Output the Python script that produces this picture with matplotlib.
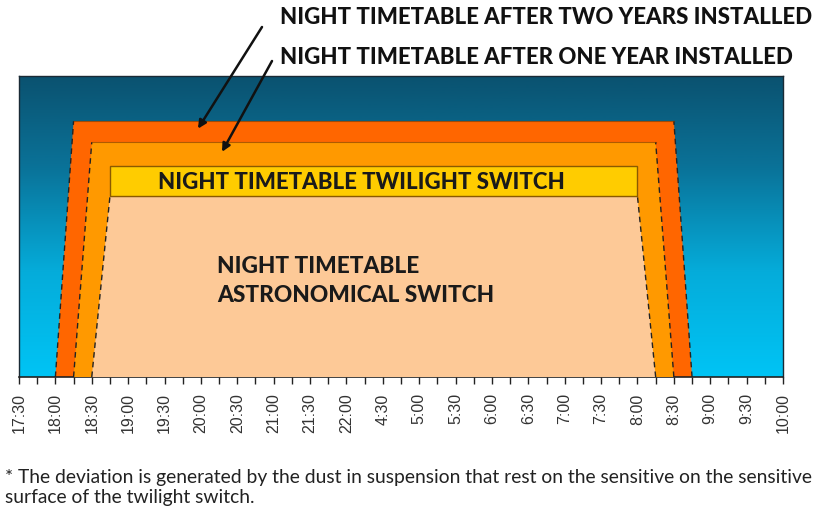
import matplotlib
matplotlib.use("Agg")
import matplotlib.pyplot as plt
import numpy as np
from matplotlib.colors import LinearSegmentedColormap
from matplotlib.patches import Polygon
from matplotlib.ticker import MultipleLocator

# time axis (one label every half hour, evening then morning)
time_labels = ["17:30", "18:00", "18:30", "19:00", "19:30", "20:00", "20:30",
               "21:00", "21:30", "22:00", "4:30", "5:00", "5:30", "6:00",
               "6:30", "7:00", "7:30", "8:00", "8:30", "9:00", "9:30", "10:00"]

# switch-on / switch-off positions (in label slots) and light level of each band
band_names = ["two years", "one year", "astronomical"]
on_start = [1.0, 1.5, 2.0]
on_full = [1.5, 2.0, 2.5]
off_full = [18.0, 17.5, 17.0]
off_end = [18.5, 18.0, 17.5]
band_level = [85, 78, 60]
band_colors = ["#FF6600", "#FF9900", "#FDC997"]

# twilight switch strip on top of the astronomical band
twilight_start, twilight_end = 2.5, 17.0
twilight_low, twilight_high = 60, 70

FONT = "Lato"

fig = plt.figure(figsize=(8.16, 5.1), dpi=100)
ax = fig.add_axes([19 / 816, 1 - 378 / 510, (783 - 19) / 816, (378 - 77) / 510])
xmax = len(time_labels) - 1
ax.set_xlim(0, xmax)
ax.set_ylim(0, 100)

# sky gradient background
cmap = LinearSegmentedColormap.from_list(
    "sky", [(0, "#00C4F5"), (0.35, "#05ACDA"), (0.7, "#0A7298"), (1, "#0A5270")])
grad = np.linspace(0, 1, 256).reshape(-1, 1)
ax.imshow(grad, cmap=cmap, origin="lower", aspect="auto",
          extent=(0, xmax, 0, 100), zorder=0)

for i in range(len(band_names)):
    pts = [(on_start[i], 0), (on_full[i], band_level[i]),
           (off_full[i], band_level[i]), (off_end[i], 0)]
    ax.add_patch(Polygon(pts, closed=True, fc=band_colors[i], ec="none", zorder=2 + i))
    ax.plot([on_start[i], on_full[i]], [0, band_level[i]], color="#222222",
            lw=1.0, ls=(0, (4, 3)), zorder=2 + i)
    ax.plot([off_end[i], off_full[i]], [0, band_level[i]], color="#222222",
            lw=1.0, ls=(0, (4, 3)), zorder=2 + i)
    ax.plot([on_full[i], off_full[i]], [band_level[i]] * 2, color="#7a3a00",
            lw=0.8, alpha=0.6, zorder=2 + i)

ax.add_patch(Polygon([(twilight_start, twilight_low), (twilight_start, twilight_high),
                      (twilight_end, twilight_high), (twilight_end, twilight_low)],
                     closed=True, fc="#FFCC00", ec="#8a5a00", lw=1.0, zorder=6))

ax.text((twilight_start + twilight_end) / 2 - 0.35, (twilight_low + twilight_high) / 2,
        "NIGHT TIMETABLE TWILIGHT SWITCH", ha="center", va="center",
        fontsize=16, fontweight="black", family=FONT, color="#1a1a1a", zorder=7)
ax.text(5.45, 32.2, "NIGHT TIMETABLE\nASTRONOMICAL SWITCH", ha="left", va="center",
        fontsize=16.3, fontweight="black", family=FONT, color="#1a1a1a",
        linespacing=1.45, zorder=7)

# axes styling
ax.set_xticks(range(len(time_labels)))
ax.set_xticklabels(time_labels, rotation=90, fontsize=11.5, color="#333333",
                   family="Liberation Sans")
ax.xaxis.set_minor_locator(MultipleLocator(0.5))
ax.tick_params(axis="x", which="both", direction="out", length=5, width=1,
               color="#222222", pad=6)
ax.set_yticks([])
for s in ax.spines.values():
    s.set_color("#1a2a35")
    s.set_linewidth(1.0)
ax.spines["bottom"].set_color("#222222")
ax.spines["bottom"].set_linewidth(1.2)

# top labels with arrows
fig.text(280 / 816, 1 - 18 / 510, "NIGHT TIMETABLE AFTER TWO YEARS INSTALLED",
         ha="left", va="center", fontsize=16, fontweight="black", family=FONT,
         color="#111111")
fig.text(280 / 816, 1 - 58 / 510, "NIGHT TIMETABLE AFTER ONE YEAR INSTALLED",
         ha="left", va="center", fontsize=16, fontweight="black", family=FONT,
         color="#111111")
ax.annotate("", xy=(4.92, 82.5), xycoords="data",
            xytext=(262, 510 - 28), textcoords="figure pixels",
            arrowprops=dict(arrowstyle="-|>", color="#111111", lw=1.8,
                            mutation_scale=12, shrinkA=0, shrinkB=0))
ax.annotate("", xy=(5.58, 74.8), xycoords="data",
            xytext=(272, 510 - 62), textcoords="figure pixels",
            arrowprops=dict(arrowstyle="-|>", color="#111111", lw=1.8,
                            mutation_scale=12, shrinkA=0, shrinkB=0))

# footnote
fig.text(5 / 816, 1 - 478 / 510,
         "* The deviation is generated by the dust in suspension that rest on the sensitive on the sensitive",
         ha="left", va="center", fontsize=13.85, family=FONT, color="#222222")
fig.text(5 / 816, 1 - 498 / 510, "surface of the twilight switch.",
         ha="left", va="center", fontsize=13.85, family=FONT, color="#222222")

fig.savefig("out.png", dpi=100)
